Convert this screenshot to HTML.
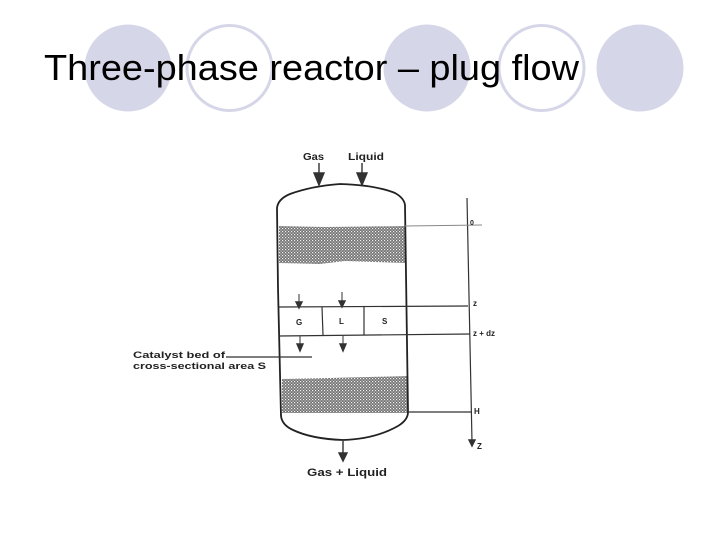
<!DOCTYPE html>
<html><head><meta charset="utf-8"><style>
html,body{margin:0;padding:0;background:#fff;width:720px;height:540px;overflow:hidden}
svg{display:block}
</style></head><body>
<svg width="720" height="540" viewBox="0 0 720 540" xmlns="http://www.w3.org/2000/svg">
<defs>
<pattern id="st" width="3" height="3" patternUnits="userSpaceOnUse">
<rect width="3" height="3" fill="#6f6f6f"/>
<rect x="0" y="0" width="1.2" height="1.2" fill="#f2f2f2"/>
<rect x="1.5" y="1.5" width="1.2" height="1.2" fill="#d8d8d8"/>
</pattern>
<filter id="b" x="-5%" y="-5%" width="110%" height="110%"><feGaussianBlur stdDeviation="0.35"/></filter>
</defs>
<rect width="720" height="540" fill="#fff"/>
<g fill="#d6d6e9">
<circle cx="128" cy="68" r="43.5"/><circle cx="427" cy="68" r="43.5"/><circle cx="640" cy="68" r="43.5"/>
</g>
<g fill="#fff" stroke="#d6d6e9" stroke-width="3">
<circle cx="229.5" cy="68" r="42.5"/><circle cx="541.5" cy="68" r="42.5"/>
</g>
<text x="44" y="80" font-family="'Liberation Sans',sans-serif" font-size="36" fill="#000" textLength="535" lengthAdjust="spacingAndGlyphs">Three-phase reactor – plug flow</text>

<g filter="url(#b)">
<!-- bands -->
<path d="M279 226 L325 227 L406 226 L406 263 L375 262 L345 261 L320 264 L279 263Z" fill="url(#st)"/>
<path d="M282 379 L330 378 L408 376 L408 413 L282 413Z" fill="url(#st)"/>

<!-- vessel -->
<path d="M278 288 L277 208 Q278 199 290 194 Q312 186 340 184 Q375 185 395 193 Q404 198 405 205 L408 412 Q408 420 398 426 Q375 439 343 440 Q312 439 293 430 Q282 425 281 416 Z" fill="none" stroke="#222" stroke-width="1.8"/>
<g fill="none" stroke="#333" stroke-width="1.2">
<path d="M279 307 L468 306"/>
<path d="M279 336 L470 334"/>
<path d="M322 307 L323 335"/>
<path d="M364 307 L364 335"/>
<path d="M226 357 L312 357"/>
<path d="M408 412 L472 412"/>
<path d="M467 198 L472 442"/>
</g>
<path d="M405 226 L482 225" stroke="#888" stroke-width="1" fill="none"/>

<!-- arrows -->
<g stroke="#333" stroke-width="1.4" fill="#333">
<path d="M319 163 V176" /><path d="M314 173 H324 L319 185Z"/>
<path d="M362 163 V176" /><path d="M357 173 H367 L362 185Z"/>
<path d="M299 294 V302" stroke-width="1"/><path d="M296 302 H302 L299 308Z"/>
<path d="M342 292 V302" stroke-width="1"/><path d="M339 301 H345 L342 307Z"/>
<path d="M300 336 V346" stroke-width="1"/><path d="M297 344 H303 L300 351Z"/>
<path d="M343 336 V346" stroke-width="1"/><path d="M340 344 H346 L343 351Z"/>
<path d="M343 441 V454"/><path d="M339 453 H347 L343 461Z"/>
<path d="M469 440 H475 L472 446Z"/>
</g>

<!-- labels -->
<g font-family="'Liberation Sans',sans-serif" font-weight="bold" fill="#222">
<text x="303" y="160" font-size="10" textLength="21" lengthAdjust="spacingAndGlyphs">Gas</text>
<text x="348" y="160" font-size="10" textLength="36" lengthAdjust="spacingAndGlyphs">Liquid</text>
<text x="296" y="325" font-size="8">G</text>
<text x="339" y="324" font-size="8">L</text>
<text x="382" y="324" font-size="8">S</text>
<text x="133" y="358" font-size="9.5" textLength="92" lengthAdjust="spacingAndGlyphs">Catalyst bed of</text>
<text x="133" y="369" font-size="9.5" textLength="133" lengthAdjust="spacingAndGlyphs">cross-sectional area S</text>
<text x="307" y="476" font-size="11" textLength="80" lengthAdjust="spacingAndGlyphs">Gas + Liquid</text>
<text x="470" y="225" font-size="7">0</text>
<text x="473" y="306" font-size="8">z</text>
<text x="473" y="336" font-size="8.5" textLength="22" lengthAdjust="spacingAndGlyphs">z + dz</text>
<text x="474" y="414" font-size="8">H</text>
<text x="477" y="449" font-size="8">Z</text>
</g>
</g>
</svg>
</body></html>
